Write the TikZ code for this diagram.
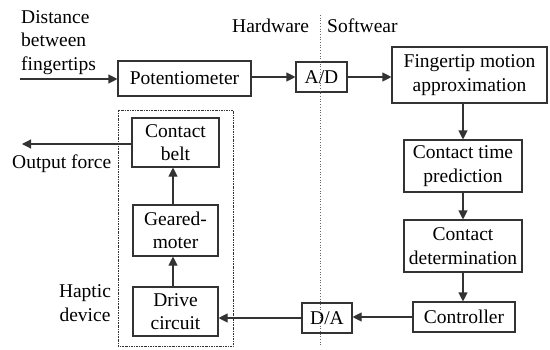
\documentclass[tikz,border=0pt]{standalone}
\usepackage{fontspec}
\setmainfont{Liberation Serif}
\newfontfamily\tms{Liberation Serif}
\usetikzlibrary{arrows.meta}
\begin{document}
\begin{tikzpicture}[x=1pt,y=-1pt,
  blk/.style={draw=black!80, line width=1.1pt, inner sep=0pt, align=center, font=\tms\fontsize{19.5}{23.5}\selectfont},
  txt/.style={inner sep=0pt, align=center, font=\tms\fontsize{19.5}{23.5}\selectfont},
  arr/.style={line width=1.1pt, draw=black!80, -{Triangle[length=9pt,width=9pt]}}]
\useasboundingbox (0,0) rectangle (550,349);
% boxes
\node[blk, minimum width=133pt, minimum height=35pt] (pot) at (184.5,78.5) {Potentiometer};
\node[blk, minimum width=51pt, minimum height=30pt] (ad) at (321.5,77) {A/D};
\node[blk, minimum width=155pt, minimum height=56pt] (fma) at (469.5,75) {Fingertip motion\\approximation};
\node[blk, minimum width=118pt, minimum height=52pt] (ctp) at (463,166) {Contact time\\prediction};
\node[blk, minimum width=118pt, minimum height=52pt] (cd) at (463,246) {Contact\\determination};
\node[blk, minimum width=102pt, minimum height=30pt] (ctrl) at (464,317) {Controller};
\node[blk, minimum width=50pt, minimum height=30pt] (da) at (327,318) {D/A};
\node[blk, minimum width=87pt, minimum height=49pt] (belt) at (175.5,142.5) {Contact\\belt};
\node[blk, minimum width=85pt, minimum height=51pt] (gear) at (175.5,230.5) {Geared-\\moter};
\node[blk, minimum width=85pt, minimum height=49pt] (drive) at (175.5,311.5) {Drive\\circuit};
% haptic device frame
\draw[line width=0.8pt, black!80, dash pattern=on 2pt off 1pt on 0.7pt off 1pt] (118,110) rectangle (233,346);
% hardware/software divider
\coordinate (divtop) at (320,15);
\coordinate (divbot) at (320,346);
\draw[line width=0.7pt, black!60, dotted] (divtop) -- (divbot);
% labels
\node[txt, anchor=west] (hw) at (232,26) {Hardware};
\node[txt, anchor=west] (sw) at (327,26) {Softwear};
\node[txt, anchor=north west, align=left] (dist) at (21,10) {Distance\\between\\fingertips};
\node[txt, anchor=west] (of) at (12,164) {Output force};
\node[txt] (hd) at (85,303) {Haptic\\device};
% connectors
\coordinate (in) at (20,79);
\coordinate (out) at (22,144);
\draw[arr] (in) -- (in -| pot.west);
\draw[arr] (pot.east |- ad.west) -- (ad.west);
\draw[arr] (ad.east) -- (ad.east -| fma.west);
\draw[arr] (fma.south -| ctp.north) -- (ctp.north);
\draw[arr] (ctp.south) -- (cd.north);
\draw[arr] (cd.south) -- (cd.south |- ctrl.north);
\draw[arr] (ctrl.west) -- (ctrl.west -| da.east);
\draw[arr] (da.west) -- (da.west -| drive.east);
\draw[arr] (drive.north -| 173,0) -- (gear.south -| 173,0);
\draw[arr] (gear.north -| 173,0) -- (belt.south -| 173,0);
\draw[arr] (belt.west |- out) -- (out);
\end{tikzpicture}
\end{document}
